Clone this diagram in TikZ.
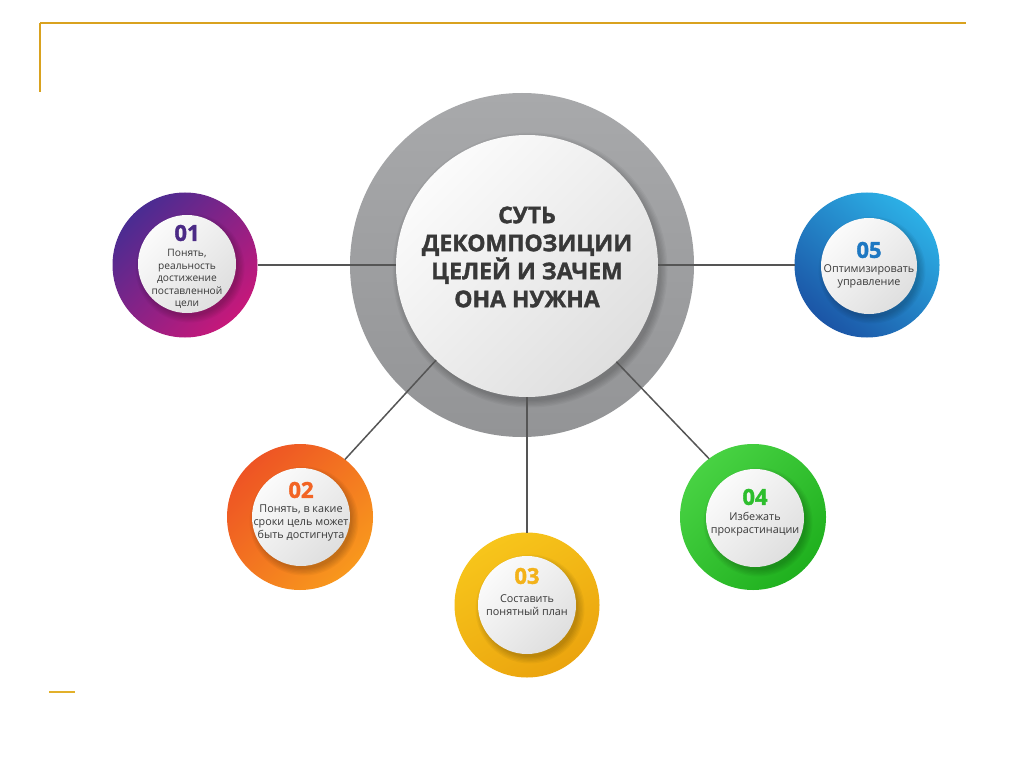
\documentclass[tikz,border=0pt]{standalone}
\usepackage{fontspec}
\setmainfont{Open Sans}
\newfontfamily\heavyfont[BoldFeatures={FakeBold=1.6}]{Open Sans}
\usetikzlibrary{shadings}
\definecolor{gold}{HTML}{D9A21F}
\definecolor{goldb}{HTML}{E2B02A}
\definecolor{linegray}{HTML}{555555}
\definecolor{textgray}{HTML}{383838}
\definecolor{ringA}{HTML}{A8A9AB}
\definecolor{ringB}{HTML}{939496}
\definecolor{purA}{HTML}{4A2C92}
\definecolor{purB}{HTML}{C7187A}
\definecolor{oraA}{HTML}{EE5424}
\definecolor{oraB}{HTML}{F8981D}
\definecolor{yelA}{HTML}{F7C51B}
\definecolor{yelB}{HTML}{EBA40E}
\definecolor{greA}{HTML}{48D243}
\definecolor{greB}{HTML}{1FB01E}
\definecolor{bluA}{HTML}{2CB0E6}
\definecolor{bluB}{HTML}{1B55A6}
\definecolor{num1}{HTML}{4B2A86}
\definecolor{num2}{HTML}{F26424}
\definecolor{num3}{HTML}{F3B21A}
\definecolor{num4}{HTML}{2DBE2D}
\definecolor{num5}{HTML}{1E78C2}
\definecolor{whiteA}{HTML}{FBFBFB}
\definecolor{whiteB}{HTML}{DFDFDF}
\newcommand\softshadow[3]{%
  \foreach \k in {0,...,5}{\fill[black,opacity=0.035] (#1+3,#2+4) circle[radius={(#3+\k*1.3)*1pt}];}}
\begin{document}
\begin{tikzpicture}[x=1pt,y=-1pt,
  disc/.style={circle, inner sep=0pt, outer sep=0pt, minimum size=#1},
  whitedisc/.style={disc=#1, top color=whiteA, bottom color=whiteB, shading angle=45},
  connector/.style={draw=linegray, line width=1.5pt},
  numtxt/.style={font=\fontsize{22}{22}\selectfont\heavyfont\bfseries},
  desc/.style={font=\fontsize{10.8}{12.8}\selectfont, text=textgray, align=center},
  title/.style={font=\fontsize{23}{28}\selectfont\heavyfont\bfseries, text=textgray, align=center},
  frame/.style={draw=gold, line width=#1}
]
\useasboundingbox (0,0) rectangle (1024,767);
\fill[white] (0,0) rectangle (1024,767);

% frame lines
\coordinate (f1) at (40,92);
\coordinate (f2) at (40,23);
\coordinate (f3) at (966,23);
\draw[frame=1.6pt] (f1) -- (f2);
\draw[frame=2.4pt] (f2) -- (f3);
\coordinate (b1) at (49,692);
\coordinate (b2) at (75,692);
\draw[draw=goldb, line width=2.2pt] (b1) -- (b2);

% outer rings
\node[disc=344pt, top color=ringA, bottom color=ringB] (co) at (522,265) {};
\node[disc=145pt, top color=purA, bottom color=purB, shading angle=45] (s1) at (185,265) {};
\node[disc=146pt, top color=oraA, bottom color=oraB, shading angle=45] (s2) at (300,517) {};
\node[disc=145pt, top color=yelA, bottom color=yelB, shading angle=30] (s3) at (527,605) {};
\node[disc=146pt, top color=greA, bottom color=greB, shading angle=45] (s4) at (753,517) {};
\node[disc=145pt, top color=bluA, bottom color=bluB, shading angle=-40] (s5) at (867,265) {};

% soft shadows
\softshadow{527}{266}{131}
\softshadow{187}{264}{48}
\softshadow{301}{517}{48}
\softshadow{527}{605}{48}
\softshadow{755}{518}{48}
\softshadow{869}{266}{47}

% inner discs
\node[whitedisc=262pt] (ci) at (527,266) {};
\node[whitedisc=98pt] (w1) at (187,264) {};
\node[whitedisc=98pt] (w2) at (301,517) {};
\node[whitedisc=98pt] (w3) at (527,605) {};
\node[whitedisc=98pt] (w4) at (755,518) {};
\node[whitedisc=96pt] (w5) at (869,266) {};

% connectors
\draw[connector] (s1.east) -- (s1.east -| ci.west);
\draw[connector] (s5.west) -- (s5.west -| ci.east);
\draw[connector] (ci.south) -- (s3.north);
\draw[connector] (ci.226) -- (s2.52);
\draw[connector] (ci.313) -- (s4.127);

% texts
\node[title] (t0) at (527,257) {СУТЬ\\ДЕКОМПОЗИЦИИ\\ЦЕЛЕЙ И ЗАЧЕМ\\ОНА НУЖНА};

\node[numtxt, text=num1] (n1) at (187,233) {01};
\node[desc, font=\fontsize{10.2}{12.4}\selectfont] (d1) at (187,279) {Понять,\\реальность\\достижение\\поставленной\\цели};

\node[numtxt, text=num2] (n2) at (301,490) {02};
\node[desc] (d2) at (301,523) {Понять, в какие\\сроки цель может\\быть достигнута};

\node[numtxt, text=num3] (n3) at (527,576) {03};
\node[desc] (d3) at (527,605) {Составить\\понятный план};

\node[numtxt, text=num4] (n4) at (755,497) {04};
\node[desc] (d4) at (755,524) {Избежать\\прокрастинации};

\node[numtxt, text=num5] (n5) at (869,250) {05};
\node[desc] (d5) at (869,276) {Оптимизировать\\управление};
\end{tikzpicture}
\end{document}
